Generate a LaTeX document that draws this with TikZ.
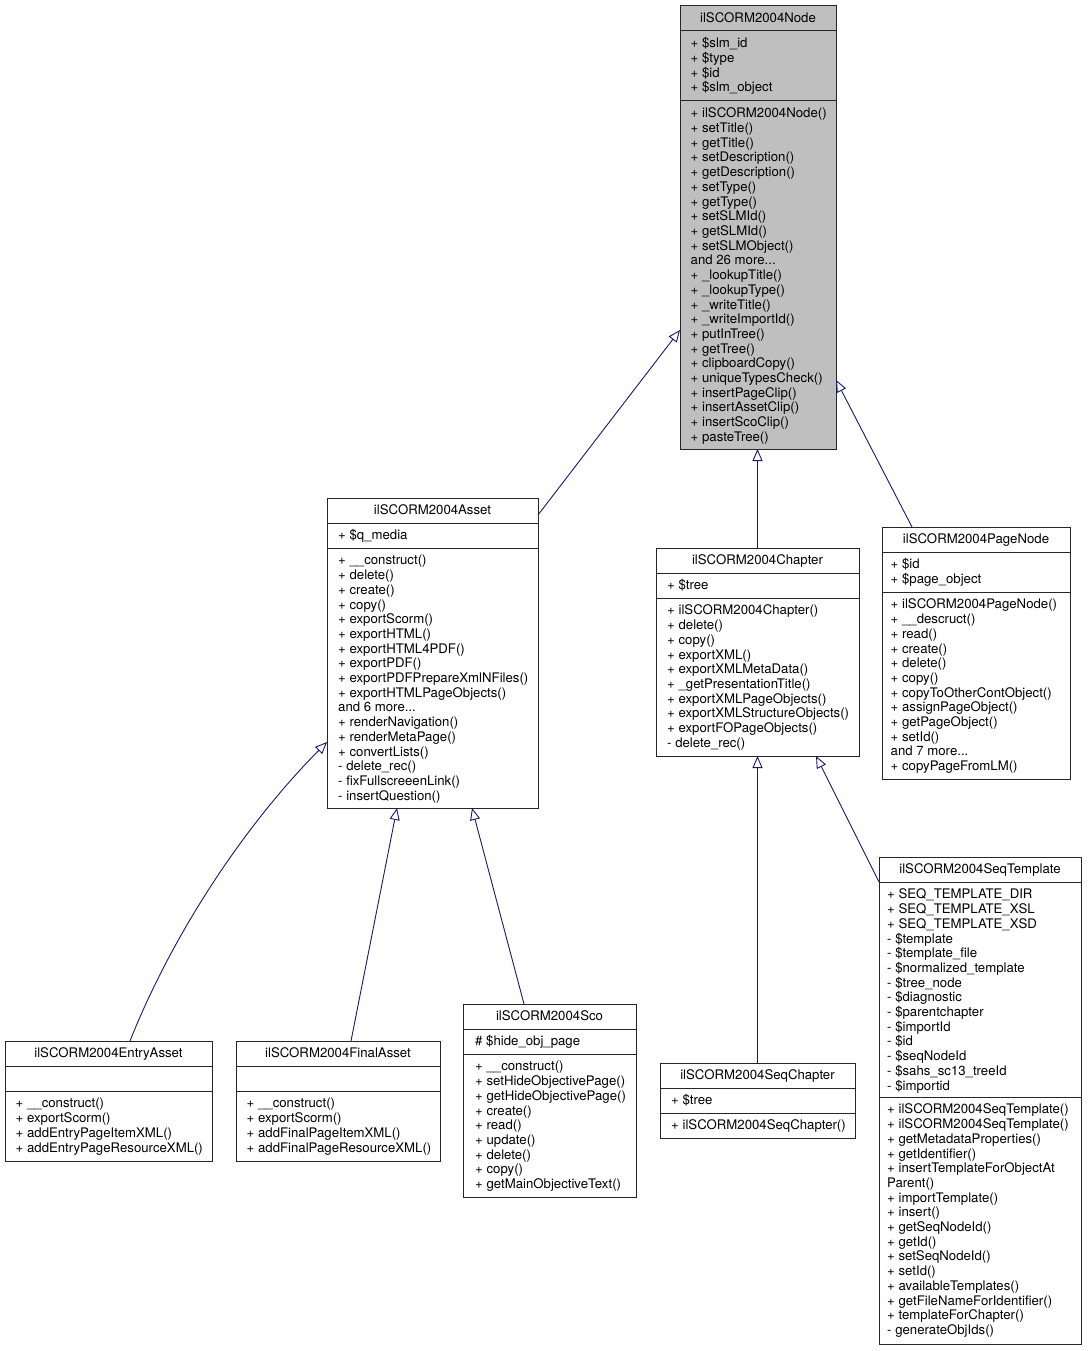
\documentclass[tikz,border=0pt]{standalone}
\usepackage{fontspec}
\setmainfont{TeX Gyre Heros}
\usetikzlibrary{arrows.meta,calc,fit}
\definecolor{edgeblue}{HTML}{191970}
\definecolor{nodegrey}{HTML}{BFBFBF}
\newcommand\moredots{...}
\tikzset{
  classbox/.style={draw=black!85, line width=1pt, inner sep=0pt, outer sep=0pt},
  divline/.style={draw=black!85, line width=1pt},
  rowtxt/.style={anchor=base west, inner sep=0pt, font=\fontsize{13.2}{14.7}\selectfont},
  titletxt/.style={anchor=base, inner sep=0pt, font=\fontsize{13.2}{14.7}\selectfont},
  inherit/.style={draw=edgeblue, line width=0.9pt, -{Triangle[length=12pt,width=10pt,fill=white,line width=0.9pt]}},
}
% #1 fill, #2 name, #3 x1, #4 x2, #5 top, #6 div1, #7 div2, #8 bottom, #9 title
\newcommand\umlclass[9][white]{%
  \node[classbox, fill=#1, fit={(#3,#5) (#4,#8)}] (#2) {};
  \draw[divline] (#3,#6) -- (#4,#6);
  \draw[divline] (#3,#7) -- (#4,#7);
  \node[titletxt] (#2-title) at ({(#3+#4)/2},{#5+16.9}) {#9};
}
% #1 prefix, #2 x, #3 first baseline, #4 list
\newcommand\umlrows[4]{%
  \foreach \rowtext [count=\ri from 0] in {#4} {%
    \node[rowtxt] (#1-\ri) at (#2,{#3+1+\ri*14.7}) {\rowtext};
  }%
}
\begin{document}
\begin{tikzpicture}[x=1pt,y=-1pt]
\fill[white] (0,0) rectangle (1087,1351);
\useasboundingbox (0,0) rectangle (1087,1351);

% ilSCORM2004Node
\umlclass[nodegrey]{node}{680}{836}{6}{31}{101}{449}{ilSCORM2004Node}
\umlrows{nodeA}{690.5}{46.9}{+ \$slm\_id, + \$type, + \$id, + \$slm\_object}
\umlrows{nodeM}{690.5}{116.9}{+ ilSCORM2004Node(), + setTitle(), + getTitle(), + setDescription(), + getDescription(), + setType(), + getType(), + setSLMId(), + getSLMId(), + setSLMObject(), and 26 more\moredots, + \_lookupTitle(), + \_lookupType(), + \_writeTitle(), + \_writeImportId(), + putInTree(), + getTree(), + clipboardCopy(), + uniqueTypesCheck(), + insertPageClip(), + insertAssetClip(), + insertScoClip(), + pasteTree()}

% ilSCORM2004Asset
\umlclass{asset}{327}{538}{498}{523}{548}{808}{ilSCORM2004Asset}
\umlrows{assetA}{338}{538.9}{+ \$q\_media}
\umlrows{assetM}{338}{563.9}{+ \_\_construct(), + delete(), + create(), + copy(), + exportScorm(), + exportHTML(), + exportHTML4PDF(), + exportPDF(), + exportPDFPrepareXmlNFiles(), + exportHTMLPageObjects(), and 6 more\moredots, + renderNavigation(), + renderMetaPage(), + convertLists(), - delete\_rec(), - fixFullscreeenLink(), - insertQuestion()}

% ilSCORM2004Chapter
\umlclass{chapter}{656}{859}{548}{573}{598}{756}{ilSCORM2004Chapter}
\umlrows{chapterA}{667}{588.9}{+ \$tree}
\umlrows{chapterM}{667}{613.9}{+ ilSCORM2004Chapter(), + delete(), + copy(), + exportXML(), + exportXMLMetaData(), + \_getPresentationTitle(), + exportXMLPageObjects(), + exportXMLStructureObjects(), + exportFOPageObjects(), - delete\_rec()}

% ilSCORM2004PageNode
\umlclass{pagenode}{882}{1070}{527}{552}{592}{779}{ilSCORM2004PageNode}
\umlrows{pagenodeA}{890.5}{567.9}{+ \$id, + \$page\_object}
\umlrows{pagenodeM}{890.5}{607.9}{+ ilSCORM2004PageNode(), + \_\_descruct(), + read(), + create(), + delete(), + copy(), + copyToOtherContObject(), + assignPageObject(), + getPageObject(), + setId(), and 7 more\moredots, + copyPageFromLM()}

% ilSCORM2004SeqTemplate
\umlclass{seqtemplate}{879}{1081}{857}{882}{1097}{1344}{ilSCORM2004SeqTemplate}
\umlrows{seqtemplateA}{887}{897.9}{+ SEQ\_TEMPLATE\_DIR, + SEQ\_TEMPLATE\_XSL, + SEQ\_TEMPLATE\_XSD, - \$template, - \$template\_file, - \$normalized\_template, - \$tree\_node, - \$diagnostic, - \$parentchapter, - \$importId, - \$id, - \$seqNodeId, - \$sahs\_sc13\_treeId, - \$importid}
\umlrows{seqtemplateM}{887}{1112.9}{+ ilSCORM2004SeqTemplate(), + ilSCORM2004SeqTemplate(), + getMetadataProperties(), + getIdentifier(), + insertTemplateForObjectAt, Parent(), + importTemplate(), + insert(), + getSeqNodeId(), + getId(), + setSeqNodeId(), + setId(), + availableTemplates(), + getFileNameForIdentifier(), + templateForChapter(), - generateObjIds()}

% ilSCORM2004SeqChapter
\umlclass{seqchapter}{660}{855}{1063}{1088}{1113}{1138}{ilSCORM2004SeqChapter}
\umlrows{seqchapterA}{671}{1103.9}{+ \$tree}
\umlrows{seqchapterM}{671}{1128.9}{+ ilSCORM2004SeqChapter()}

% ilSCORM2004Sco
\umlclass{sco}{463}{636}{1004}{1029}{1054}{1197}{ilSCORM2004Sco}
\umlrows{scoA}{475}{1044.9}{\# \$hide\_obj\_page}
\umlrows{scoM}{475}{1069.9}{+ \_\_construct(), + setHideObjectivePage(), + getHideObjectivePage(), + create(), + read(), + update(), + delete(), + copy(), + getMainObjectiveText()}

% ilSCORM2004EntryAsset
\umlclass{entry}{5}{212}{1041}{1066}{1091}{1161}{ilSCORM2004EntryAsset}
\umlrows{entryM}{15.5}{1106.9}{+ \_\_construct(), + exportScorm(), + addEntryPageItemXML(), + addEntryPageResourceXML()}

% ilSCORM2004FinalAsset
\umlclass{final}{236}{440}{1041}{1066}{1091}{1161}{ilSCORM2004FinalAsset}
\umlrows{finalM}{246.5}{1106.9}{+ \_\_construct(), + exportScorm(), + addFinalPageItemXML(), + addFinalPageResourceXML()}

% inheritance connectors
\draw[inherit] ([yshift=-17pt]asset.north east) -- ([yshift=-324pt]node.north west);
\draw[inherit] (chapter.north) -- (chapter.north |- node.south);
\draw[inherit] ([xshift=30pt]pagenode.north west) -- ([yshift=-374pt]node.north east);
\draw[inherit] ([xshift=125pt]entry.north west) .. controls +(40,-101) and +(-87,88) .. ([yshift=-244pt]asset.north west);
\draw[inherit] ([xshift=115pt]final.north west) -- ([xshift=70pt]asset.south west);
\draw[inherit] ([xshift=61pt]sco.north west) -- ([xshift=145pt]asset.south west);
\draw[inherit] (seqchapter.north) -- (seqchapter.north |- chapter.south);
\draw[inherit] ([yshift=-25pt]seqtemplate.north west) -- ([xshift=160pt]chapter.south west);
\end{tikzpicture}
\end{document}
